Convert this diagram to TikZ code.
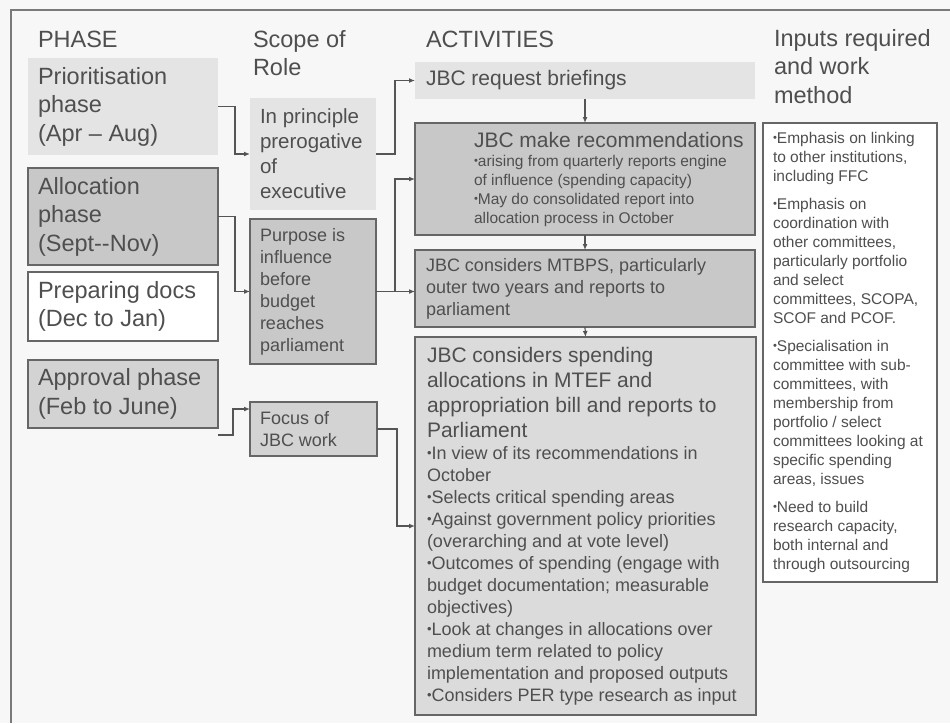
\documentclass[tikz,border=0pt]{standalone}
\usepackage{fontspec}
\setmainfont{Liberation Sans}
\usetikzlibrary{arrows.meta,calc}
\definecolor{bgc}{HTML}{F7F7F7}
\definecolor{txt}{HTML}{4F4F4F}
\definecolor{bord}{HTML}{666666}
\definecolor{linec}{HTML}{555555}
\definecolor{framec}{HTML}{7A7A7A}
\definecolor{fillL}{HTML}{E4E4E4}
\definecolor{fillD}{HTML}{C8C8C8}
\definecolor{fillM}{HTML}{D3D3D3}
\definecolor{fillB}{HTML}{DBDBDB}
\newcommand\bl{\raisebox{0.1em}{\scalebox{0.72}{\textbullet}}}
\newcommand\fhead{\fontsize{23.5}{28.5}\selectfont}
\newcommand\fscope{\fontsize{20.5}{25}\selectfont}
\newcommand\fsmall{\fontsize{18}{22}\selectfont}
\newcommand\ftitle{\fontsize{21}{25}\selectfont}
\newcommand\fnote{\fontsize{15.5}{19}\selectfont}
\newcommand\LL[1]{\hbox{#1}}
\newcommand\tb[3]{\makebox[#1pt][l]{\hspace*{#2pt}\vbox{#3}}}
\begin{document}
\begin{tikzpicture}[x=1pt,y=-1pt,
  every node/.style={text=txt, outer sep=0pt},
  box/.style={anchor=north west, inner sep=0pt},
  bordered/.style={draw=bord, line width=1.2pt},
  hd/.style={anchor=base west, inner sep=0pt, font=\fhead},
  conn/.style={draw=linec, line width=1.2pt, -{Latex[length=6pt,width=5pt]}}]
\fill[bgc] (0,0) rectangle (950,723);
\useasboundingbox (0,0) rectangle (950,723);
\draw[framec, line width=1.6pt] (950,10) -- (11,10) -- (11,723);

% headers
\node[hd] (hphase) at (38,47) {PHASE};
\node[hd] (hscope) at (253,47) {\vtop{\LL{Scope of}\LL{Role}}};
\node[hd] (hact) at (426,47) {ACTIVITIES};
\node[hd] (hin) at (774,46) {\vtop{\LL{Inputs required}\LL{and work}\LL{method}}};

% phase column
\node[box, fill=fillL, minimum height=97pt, font=\fhead] (prio) at (28,58)
  {\tb{190}{10}{\LL{Prioritisation}\LL{phase}\LL{(Apr – Aug)}}};
\node[box, bordered, fill=fillD, minimum height=97pt, font=\fhead] (alloc) at (28,168)
  {\tb{190}{10}{\LL{Allocation}\LL{phase}\LL{(Sept-{}-Nov)}}};
\node[box, bordered, fill=white, minimum height=69pt, font=\fhead] (prep) at (28,272)
  {\tb{190}{10}{\LL{Preparing docs}\LL{(Dec to Jan)}}};
\node[box, bordered, fill=fillM, minimum height=68pt, font=\fhead] (appr) at (28,360)
  {\tb{190}{10}{\LL{Approval phase}\LL{(Feb to June)}}};

% scope column
\node[box, fill=fillL, minimum height=112pt, font=\fscope] (inp) at (250,98)
  {\tb{126}{10}{\LL{In principle}\LL{prerogative}\LL{of}\LL{executive}}};
\node[box, bordered, fill=fillD, minimum height=145pt, font=\fsmall] (purp) at (250,219)
  {\tb{126}{10}{\LL{Purpose is}\LL{influence}\LL{before}\LL{budget}\LL{reaches}\LL{parliament}}};
\node[box, bordered, fill=fillM, minimum height=54pt, font=\fsmall] (focus) at (250,402)
  {\tb{127}{10}{\LL{Focus of}\LL{JBC work}}};

% activities column
\node[box, fill=fillL, minimum height=37pt, font=\ftitle] (brief) at (415,62)
  {\tb{340}{11}{\LL{JBC request briefings}}};
\node[box, bordered, fill=fillD, minimum height=112pt, font=\ftitle] (makerec) at (415,123)
  {\tb{340}{59}{\LL{JBC make recommendations}
   \fnote
   \LL{\bl arising from quarterly reports engine}
   \LL{of influence (spending capacity)}
   \LL{\bl May do consolidated report into}
   \LL{allocation process in October}}};
\node[box, bordered, fill=fillD, minimum height=77pt, font=\fsmall] (mtbps) at (415,250)
  {\tb{340}{11}{\LL{JBC considers MTBPS, particularly}\LL{outer two years and reports to}\LL{parliament}}};
\node[box, bordered, fill=fillB, minimum height=378pt, font=\ftitle] (big) at (415,337)
  {\tb{341}{12}{\LL{JBC considers spending}
   \LL{allocations in MTEF and}
   \LL{appropriation bill and reports to}
   \LL{Parliament}
   \fsmall
   \LL{\bl In view of its recommendations in}
   \LL{October}
   \LL{\bl Selects critical spending areas}
   \LL{\bl Against government policy priorities}
   \LL{(overarching and at vote level)}
   \LL{\bl Outcomes of spending (engage with}
   \LL{budget documentation; measurable}
   \LL{objectives)}
   \LL{\bl Look at changes in allocations over}
   \LL{medium term related to policy}
   \LL{implementation and proposed outputs}
   \LL{\bl Considers PER type research as input}}};

% inputs column
\node[box, bordered, fill=white, minimum height=459pt, font=\fnote] (inputs) at (763,123)
  {\tb{174}{10}{\LL{\bl Emphasis on linking}
   \LL{to other institutions,}
   \LL{including FFC}\vskip 9pt
   \LL{\bl Emphasis on}
   \LL{coordination with}
   \LL{other committees,}
   \LL{particularly portfolio}
   \LL{and select}
   \LL{committees, SCOPA,}
   \LL{SCOF and PCOF.}\vskip 9pt
   \LL{\bl Specialisation in}
   \LL{committee with sub-}
   \LL{committees, with}
   \LL{membership from}
   \LL{portfolio / select}
   \LL{committees looking at}
   \LL{specific spending}
   \LL{areas, issues}\vskip 9pt
   \LL{\bl Need to build}
   \LL{research capacity,}
   \LL{both internal and}
   \LL{through outsourcing}}};

% connectors
\draw[conn] (prio.east) -- ++(17,0) |- (inp.west);
\draw[conn] (alloc.east) -- ++(17,0) |- (purp.west);
\coordinate (apst) at ([yshift=-7pt]appr.south east);
\coordinate (focin) at ([yshift=20pt]focus.west);
\draw[conn] (apst) -- ++(15,0) |- (focin);
\draw[conn] (inp.east) -- ++(19,0) |- (brief.west);
\coordinate (jn) at ($(purp.east)+(19,0)$);
\draw[conn] (purp.east) -- (purp.east -| mtbps.west);
\draw[conn] (jn) |- (makerec.west);
\draw[conn] (focus.east) -- ++(20,0) |- (big.west);
\draw[conn] (brief.south) -- (makerec.north);
\draw[conn] (makerec.south) -- (mtbps.north);
\draw[conn] (mtbps.south) -- (big.north);
\end{tikzpicture}
\end{document}
